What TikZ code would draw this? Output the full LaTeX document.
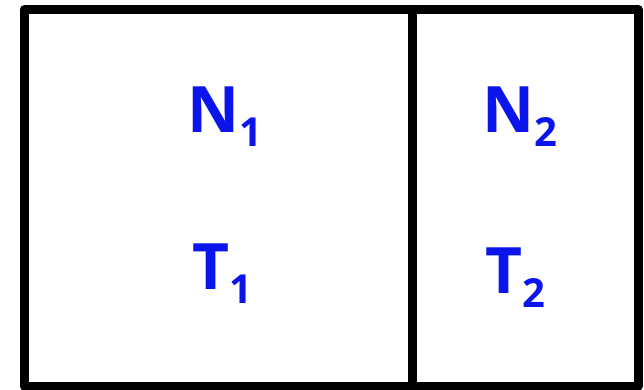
\documentclass[tikz,border=0pt]{standalone}
\usepackage{fontspec}
\setmainfont{Open Sans}
\definecolor{ink}{RGB}{10,20,235}
\newcommand{\lbl}[2]{#1{\fontsize{40}{40}\selectfont\raisebox{-14pt}{#2}}}
\begin{document}
\begin{tikzpicture}[x=1pt,y=-1pt,
  frame/.style={line width=9pt, line join=round, line cap=round},
  label/.style={text=ink, font=\fontsize{64}{64}\selectfont\bfseries, inner sep=0pt}]
\useasboundingbox (0,0) rectangle (644,390);
\coordinate (tl) at (24.5,9.5);
\coordinate (br) at (638,386);
\coordinate (dt) at (412.5,9.5);
\coordinate (db) at (412.5,386);
\draw[frame] (tl) rectangle (br);
\draw[frame] (dt) -- (db);
\node[label] (n1) at (225,117) {\lbl{N}{1}};
\node[label] (n2) at (520,117) {\lbl{N}{2}};
\node[label] (t1) at (222,274) {\lbl{T}{1}};
\node[label] (t2) at (515,278) {\lbl{T}{2}};
\end{tikzpicture}
\end{document}
